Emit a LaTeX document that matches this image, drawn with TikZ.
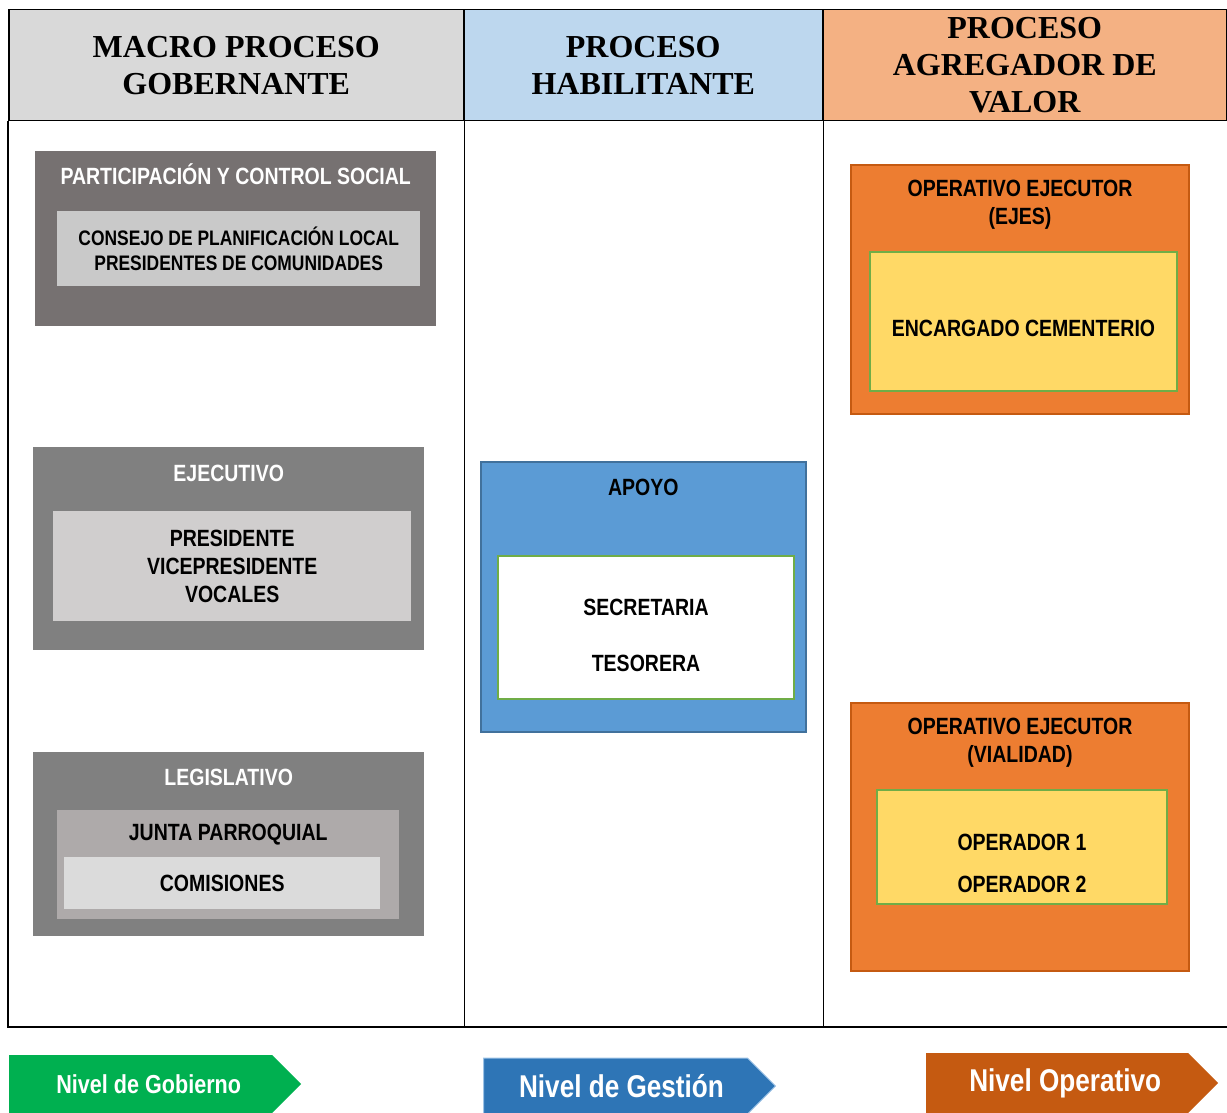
\documentclass[tikz,border=0pt]{standalone}
\usepackage{fontspec}
\setmainfont{Liberation Serif}
\newfontfamily\narrowfont{Liberation Sans}[FakeStretch=0.83]
\usetikzlibrary{positioning, shapes.symbols}
\definecolor{headgray}{HTML}{D9D9D9}
\definecolor{headblue}{HTML}{BDD7EE}
\definecolor{headorange}{HTML}{F4B183}
\definecolor{partgray}{HTML}{767171}
\definecolor{midgray}{HTML}{808080}
\definecolor{palegray}{HTML}{C9C9C9}
\definecolor{ejecgray}{HTML}{D0CECE}
\definecolor{warmgray}{HTML}{AEAAAA}
\definecolor{softgray}{HTML}{DBDBDB}
\definecolor{apoyoblue}{HTML}{5B9BD5}
\definecolor{apoyoline}{HTML}{41719C}
\definecolor{okgreen}{HTML}{70AD47}
\definecolor{opfill}{HTML}{ED7D31}
\definecolor{opline}{HTML}{C55A11}
\definecolor{opyellow}{HTML}{FFD966}
\definecolor{arrowgreen}{HTML}{00B050}
\definecolor{arrowblue}{HTML}{2E75B6}
\definecolor{arrowblueline}{HTML}{9DC3E6}
\definecolor{arroworange}{HTML}{C55A11}
\tikzset{
    head/.style = {rectangle, draw, line width=1.5pt, inner sep=0pt, anchor=north west,
                    minimum height=111pt, align=center,
                    font=\bfseries\fontsize{32}{37}\selectfont},
    unit/.style = {rectangle, inner sep=0pt, anchor=north west, align=center,
                    font=\narrowfont\bfseries\fontsize{23.5}{28}\selectfont},
    unittitle/.style = {inner sep=0pt, align=center,
                    font=\narrowfont\bfseries\fontsize{23.5}{28}\selectfont},
    level/.style = {signal, signal to=east, signal pointer angle=90, inner sep=0pt,
                    anchor=west, text=white}
}

\begin{document}
\begin{tikzpicture}[x=1pt, y=-1pt]
	\useasboundingbox (0,0) rectangle (1227,1113);
	% encabezado
	\node (hgob) [head, fill=headgray, minimum width=455pt] at (8,9) {MACRO PROCESO\\GOBERNANTE};
	\node (hhab) [head, fill=headblue, minimum width=359pt] at (463,9) {PROCESO\\HABILITANTE};
	\node (hval) [head, fill=headorange, minimum width=404pt] at (822,9) {PROCESO\\AGREGADOR DE\\VALOR};
	\coordinate (bottom) at (0,1027);
	\draw [line width=1.5pt] (hgob.south west) -- (hgob.south west |- bottom) -- (hval.south east |- bottom) -- (hval.south east);
	\draw [line width=1.5pt] (hgob.south east) -- (hgob.south east |- bottom);
	\draw [line width=1.5pt] (hhab.south east) -- (hhab.south east |- bottom);
	% gobernante
	\node (part) [unit, fill=partgray, minimum width=401pt, minimum height=175pt] at (35,151) {};
	\node (parttit) [unittitle, text=white] at ([yshift=-23pt]part.north) {PARTICIPACIÓN Y CONTROL SOCIAL};
	\node (consejo) [unit, fill=palegray, minimum width=363pt, minimum height=75pt,
		font=\narrowfont\bfseries\fontsize{21}{25}\selectfont] at (57,211) {CONSEJO DE PLANIFICACIÓN LOCAL\\PRESIDENTES DE COMUNIDADES};
	\node (ejec) [unit, fill=midgray, minimum width=391pt, minimum height=203pt] at (33,447) {};
	\node (ejectit) [unittitle, text=white] at ([yshift=-26pt]ejec.north) {EJECUTIVO};
	\node (autor) [unit, fill=ejecgray, minimum width=358pt, minimum height=110pt] at (53,511) {PRESIDENTE\\VICEPRESIDENTE\\VOCALES};
	\node (legis) [unit, fill=midgray, minimum width=391pt, minimum height=184pt] at (33,752) {};
	\node (legistit) [unittitle, text=white] at ([yshift=-25pt]legis.north) {LEGISLATIVO};
	\node (junta) [unit, fill=warmgray, minimum width=342pt, minimum height=109pt] at (57,810) {};
	\node (juntatit) [unittitle] at ([yshift=-25pt]junta.north) {JUNTA PARROQUIAL};
	\node (comis) [unit, fill=softgray, minimum width=316pt, minimum height=52pt] at (64,857) {COMISIONES};
	% habilitante
	\node (apoyo) [unit, fill=apoyoblue, draw=apoyoline, line width=1.5pt, minimum width=325pt, minimum height=270pt] at (480,461) {};
	\node (apoyotit) [unittitle] at ([yshift=-26pt]apoyo.north) {APOYO};
	\node (staff) [unit, fill=white, draw=okgreen, line width=2pt, minimum width=296pt, minimum height=143pt] at (497,555) {};
	\node (stafftext) [unittitle] at ([yshift=-8pt]staff.center) {SECRETARIA\\[28pt]TESORERA};
	% agregador de valor
	\node (ejes) [unit, fill=opfill, draw=opline, line width=2pt, minimum width=338pt, minimum height=249pt] at (850,164) {};
	\node (ejestit) [unittitle] at ([yshift=-41pt]ejes.north) {OPERATIVO EJECUTOR\\(EJES)};
	\node (cement) [unit, fill=opyellow, draw=okgreen, line width=2pt, minimum width=307pt, minimum height=139pt] at (869,251) {};
	\node (cementtext) [unittitle] at ([yshift=-7pt]cement.center) {ENCARGADO CEMENTERIO};
	\node (vial) [unit, fill=opfill, draw=opline, line width=2pt, minimum width=338pt, minimum height=268pt] at (850,702) {};
	\node (vialtit) [unittitle] at ([yshift=-41pt]vial.north) {OPERATIVO EJECUTOR\\(VIALIDAD)};
	\node (ops) [unit, fill=opyellow, draw=okgreen, line width=2pt, minimum width=290pt, minimum height=114pt] at (876,789) {};
	\node (opstext) [unittitle] at ([yshift=-16pt]ops.center) {OPERADOR 1\\[14pt]OPERADOR 2};
	% niveles
	\node (ngob) [level, fill=arrowgreen, minimum width=292pt, minimum height=58pt,
		font=\narrowfont\bfseries\fontsize{26}{30}\selectfont] at (9,1084) {\hspace*{16pt}Nivel de Gobierno};
	\node (nges) [level, fill=arrowblue, draw=arrowblueline, line width=1pt, minimum width=292pt, minimum height=56pt,
		font=\narrowfont\bfseries\fontsize{31.5}{36}\selectfont] at (483,1086) {\hspace*{12pt}Nivel de Gestión};
	\node (nope) [level, fill=arroworange, minimum width=292pt, minimum height=60pt,
		font=\narrowfont\bfseries\fontsize{31.5}{36}\selectfont] at (926,1083) {\hspace*{16pt}Nivel Operativo};
\end{tikzpicture}
\end{document}
